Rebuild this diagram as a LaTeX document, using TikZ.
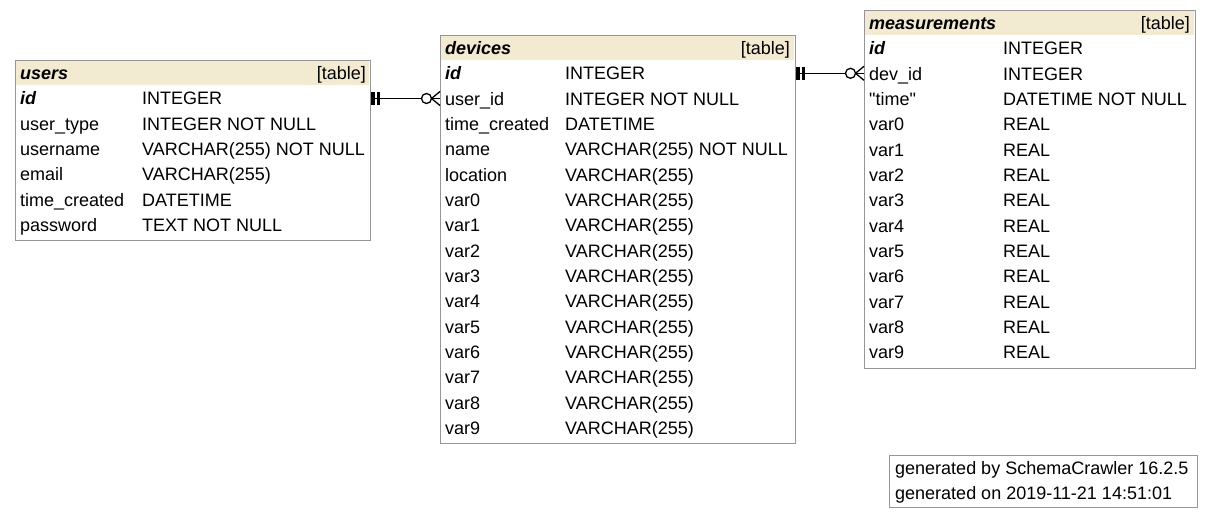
\documentclass[tikz,border=0pt]{standalone}
\usepackage{fontspec}
\setmainfont{Liberation Sans}
\newfontfamily\qfont{Liberation Sans}[Ligatures=ResetAll]
\definecolor{hdrcol}{RGB}{243,234,210}
\definecolor{bordcol}{RGB}{150,150,150}
\begin{document}
\begin{tikzpicture}[x=1pt,y=-1pt,
  txt/.style={anchor=base west,inner sep=0pt,font=\fontsize{18}{20}\selectfont},
  rtxt/.style={anchor=base east,inner sep=0pt,font=\fontsize{18}{20}\selectfont},
  tbl/.style={draw=bordcol,line width=1.3pt,fill=white},
  hdr/.style={fill=hdrcol},
  conn/.style={line width=1.3pt,black},
  bar/.style={line width=3.2pt,black},
  foot/.style={draw=bordcol,line width=1.1pt}]
\useasboundingbox (0,0) rectangle (1211,519);
% ---------------- users ----------------
\node[tbl,anchor=north west,minimum width=355pt,minimum height=180pt,inner sep=0pt] (users) at (15,60) {};
\fill[hdr] (16,61) rectangle (369,85.3);
\node[txt] (uh) at (20,{60.5+19.17}) {\bfseries\itshape users};
\node[rtxt] at (366,{60.5+19.17}) {[table]};
\node[txt] (uid) at (20,{60.5+19.17+1*25.33}) {\bfseries\itshape id};
\node[txt] at (142,{60.5+19.17+1*25.33}) {INTEGER};
\node[txt] at (20,{60.5+19.17+2*25.33}) {user\_type};
\node[txt] at (142,{60.5+19.17+2*25.33}) {INTEGER NOT NULL};
\node[txt] at (20,{60.5+19.17+3*25.33}) {username};
\node[txt] at (142,{60.5+19.17+3*25.33}) {VARCHAR(255) NOT NULL};
\node[txt] at (20,{60.5+19.17+4*25.33}) {email};
\node[txt] at (142,{60.5+19.17+4*25.33}) {VARCHAR(255)};
\node[txt] at (20,{60.5+19.17+5*25.33}) {time\_created};
\node[txt] at (142,{60.5+19.17+5*25.33}) {DATETIME};
\node[txt] at (20,{60.5+19.17+6*25.33}) {password};
\node[txt] at (142,{60.5+19.17+6*25.33}) {TEXT NOT NULL};
% ---------------- devices ----------------
\node[tbl,anchor=north west,minimum width=355pt,minimum height=408pt,inner sep=0pt] (devices) at (440,35) {};
\fill[hdr] (441,36) rectangle (794,60.3);
\node[txt] (dh) at (445,{35.5+19.17}) {\bfseries\itshape devices};
\node[rtxt] at (790,{35.5+19.17}) {[table]};
\node[txt] (did) at (445,{35.5+19.17+1*25.33}) {\bfseries\itshape id};
\node[txt] at (565,{35.5+19.17+1*25.33}) {INTEGER};
\node[txt] (duid) at (445,{35.5+19.17+2*25.33}) {user\_id};
\node[txt] at (565,{35.5+19.17+2*25.33}) {INTEGER NOT NULL};
\node[txt] at (445,{35.5+19.17+3*25.33}) {time\_created};
\node[txt] at (565,{35.5+19.17+3*25.33}) {DATETIME};
\node[txt] at (445,{35.5+19.17+4*25.33}) {name};
\node[txt] at (565,{35.5+19.17+4*25.33}) {VARCHAR(255) NOT NULL};
\node[txt] at (445,{35.5+19.17+5*25.33}) {location};
\node[txt] at (565,{35.5+19.17+5*25.33}) {VARCHAR(255)};
\foreach \i in {0,...,9} {
  \node[txt] (dv\i) at (445,{35.5+19.17+(6+\i)*25.33}) {var\i};
  \node[txt] at (565,{35.5+19.17+(6+\i)*25.33}) {VARCHAR(255)};
}
% ---------------- measurements ----------------
\node[tbl,anchor=north west,minimum width=331pt,minimum height=358pt,inner sep=0pt] (meas) at (864,10) {};
\fill[hdr] (865,11) rectangle (1194,35.3);
\node[txt] (mh) at (869,{10.5+19.17}) {\bfseries\itshape measurements};
\node[rtxt] at (1190,{10.5+19.17}) {[table]};
\node[txt] (mid) at (869,{10.5+19.17+1*25.33}) {\bfseries\itshape id};
\node[txt] at (1003,{10.5+19.17+1*25.33}) {INTEGER};
\node[txt] (mdid) at (869,{10.5+19.17+2*25.33}) {dev\_id};
\node[txt] at (1003,{10.5+19.17+2*25.33}) {INTEGER};
\node[txt] at (869,{10.5+19.17+3*25.33}) {\qfont\symbol{34}time\symbol{34}};
\node[txt] at (1003,{10.5+19.17+3*25.33}) {DATETIME NOT NULL};
\foreach \i in {0,...,9} {
  \node[txt] (mv\i) at (869,{10.5+19.17+(4+\i)*25.33}) {var\i};
  \node[txt] at (1003,{10.5+19.17+(4+\i)*25.33}) {REAL};
}
% ---------------- connectors ----------------
\coordinate (c1a) at (370,98.5);
\coordinate (c1b) at (440,98.5);
\draw[conn] (users.east |- c1a) -- ([xshift=-18pt]devices.west |- c1b);
\draw[bar] (373,92) -- (373,105);
\draw[bar] (378.5,92) -- (378.5,105);
\draw[conn] ([xshift=-13.5pt]devices.west |- c1b) circle (5pt);
\draw[conn] ([xshift=-8.5pt]devices.west |- c1b) -- ++(8.5pt,-7pt);
\draw[conn] ([xshift=-8.5pt]devices.west |- c1b) -- ++(8.5pt,0);
\draw[conn] ([xshift=-8.5pt]devices.west |- c1b) -- ++(8.5pt,7pt);
\coordinate (c2a) at (795,73.3);
\coordinate (c2b) at (864,73.3);
\draw[conn] (devices.east |- c2a) -- ([xshift=-18pt]meas.west |- c2b);
\draw[bar] (798,67) -- (798,80);
\draw[bar] (803.5,67) -- (803.5,80);
\draw[conn] ([xshift=-13.5pt]meas.west |- c2b) circle (5pt);
\draw[conn] ([xshift=-8.5pt]meas.west |- c2b) -- ++(8.5pt,-7pt);
\draw[conn] ([xshift=-8.5pt]meas.west |- c2b) -- ++(8.5pt,0);
\draw[conn] ([xshift=-8.5pt]meas.west |- c2b) -- ++(8.5pt,7pt);
% ---------------- footer ----------------
\node[foot,anchor=north west,minimum width=308pt,minimum height=52pt,inner sep=0pt] (footer) at (889,455) {};
\node[txt] (f1) at (895,{467.5+6.5}) {generated by SchemaCrawler 16.2.5};
\node[txt] (f2) at (895,{492.5+6.5}) {generated on 2019-11-21 14:51:01};
\end{tikzpicture}
\end{document}
